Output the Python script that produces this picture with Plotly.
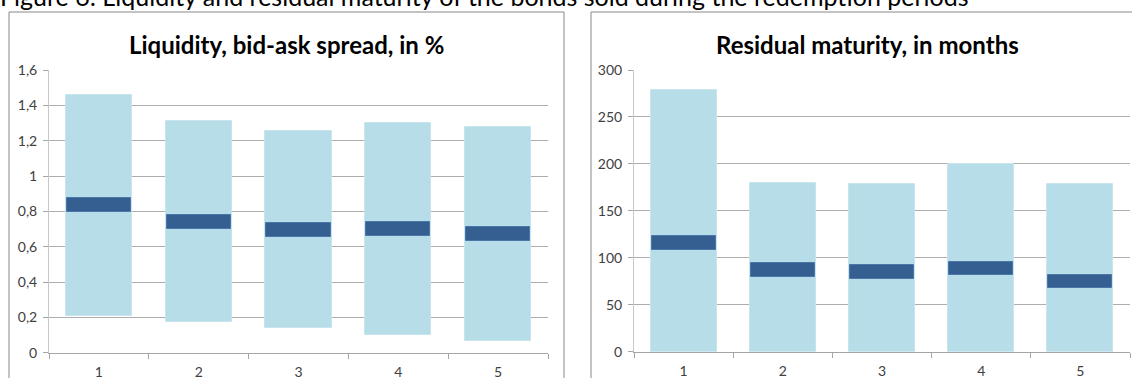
import plotly.graph_objects as go

W, H = 1132, 378

# Redemption periods
periods = ["1", "2", "3", "4", "5"]

# Liquidity: bid-ask spread (%) — full range and central band
spread_low = [0.21, 0.175, 0.14, 0.10, 0.068]
spread_high = [1.46, 1.31, 1.255, 1.30, 1.28]
spread_band_low = [0.795, 0.70, 0.655, 0.66, 0.634]
spread_band_high = [0.874, 0.78, 0.733, 0.738, 0.71]

# Residual maturity (months) — full range and central band
maturity_low = [0, 0, 0, 0, 0]
maturity_high = [279, 180, 179, 200, 178.5]
maturity_band_low = [108.5, 80, 77.7, 81.5, 67.6]
maturity_band_high = [123.5, 94.8, 92, 95.5, 82]

spread_ticks = [0, 0.2, 0.4, 0.6, 0.8, 1.0, 1.2, 1.4, 1.6]
spread_ticktext = ["0", "0,2", "0,4", "0,6", "0,8", "1", "1,2", "1,4", "1,6"]
maturity_ticks = [0, 50, 100, 150, 200, 250, 300]

LIGHT = "#B7DDE8"
DARK = "#355F91"
FONT = "Lato"
BAR_W = 0.665


def px_x(p):
    return p / W


def px_y(p):
    return 1 - p / H


fig = go.Figure()


def add_range_bars(xaxis, yaxis, low, high, blow, bhigh):
    fig.add_trace(go.Bar(
        x=periods, y=[h - l for h, l in zip(high, low)], base=low,
        width=BAR_W, marker=dict(color=LIGHT, line=dict(color="#C8E5EE", width=1)),
        xaxis=xaxis, yaxis=yaxis, showlegend=False, hoverinfo="skip",
    ))
    fig.add_trace(go.Bar(
        x=periods, y=[h - l for h, l in zip(bhigh, blow)], base=blow,
        width=BAR_W - 0.02, marker=dict(color=DARK, line=dict(color="#4A77A8", width=1)),
        xaxis=xaxis, yaxis=yaxis, showlegend=False, hoverinfo="skip",
    ))


add_range_bars("x", "y", spread_low, spread_high, spread_band_low, spread_band_high)
add_range_bars("x2", "y2", maturity_low, maturity_high, maturity_band_low, maturity_band_high)

tick_font = dict(family=FONT, size=14, color="#404040")
xcommon = dict(
    type="category", range=[-0.5, 4.5], tickson="boundaries", ticks="outside",
    ticklen=5, tickcolor="#A6A6A6", showline=True, linecolor="#A6A6A6",
    linewidth=1, showgrid=False, tickfont=tick_font, fixedrange=True,
    automargin=False, ticklabelstandoff=6,
)
ycommon = dict(
    ticks="outside", ticklen=5, tickcolor="#A6A6A6", showline=True,
    linecolor="#C8C8C8", linewidth=1, showgrid=True, gridcolor="#ADADAD",
    gridwidth=1, zeroline=False, tickfont=tick_font, fixedrange=True,
    automargin=False, ticklabelstandoff=3,
)

fig.update_layout(
    width=W, height=H,
    margin=dict(l=0, r=0, t=0, b=0, autoexpand=False),
    paper_bgcolor="white", plot_bgcolor="white",
    barmode="overlay", bargap=0,
    font=dict(family=FONT),
    # Figure caption, sitting at the very top edge of the page
    title=dict(
        text="Figure 6: Liquidity and residual maturity of the bonds sold during the redemption periods",
        x=0, xref="container", xanchor="left",
        y=1 - 5.5 / H, yref="container", yanchor="bottom",
        pad=dict(t=0, b=0, l=0, r=0), automargin=False,
        font=dict(family=FONT, size=25, color="black"),
    ),
    xaxis=dict(domain=[px_x(49), px_x(548)], anchor="y", **xcommon),
    yaxis=dict(domain=[px_y(352.7), px_y(70)], anchor="x", range=[0, 1.6],
               tickvals=spread_ticks, ticktext=spread_ticktext, **ycommon),
    xaxis2=dict(domain=[px_x(634), px_x(1130)], anchor="y2", **xcommon),
    yaxis2=dict(domain=[px_y(351.7), px_y(70)], anchor="x2", range=[0, 300],
                tickvals=maturity_ticks, **ycommon),
)

# Panel frames
frame = dict(color="#888888", width=1)
fig.add_shape(type="rect", xref="paper", yref="paper",
              x0=px_x(9), x1=px_x(564), y0=px_y(400), y1=px_y(12), line=frame)
fig.add_shape(type="rect", xref="paper", yref="paper",
              x0=px_x(591), x1=px_x(1145), y0=px_y(400), y1=px_y(12), line=frame)

# Panel titles
fig.add_annotation(text="<b>Liquidity, bid-ask spread, in %</b>", xref="paper", yref="paper",
                   x=px_x(286.5), y=px_y(44), xanchor="center", yanchor="middle",
                   showarrow=False, font=dict(family=FONT, size=24, color="black"))
fig.add_annotation(text="<b>Residual maturity, in months</b>", xref="paper", yref="paper",
                   x=px_x(867), y=px_y(44), xanchor="center", yanchor="middle",
                   showarrow=False, font=dict(family=FONT, size=24, color="black"))

fig.write_html("out.html")
